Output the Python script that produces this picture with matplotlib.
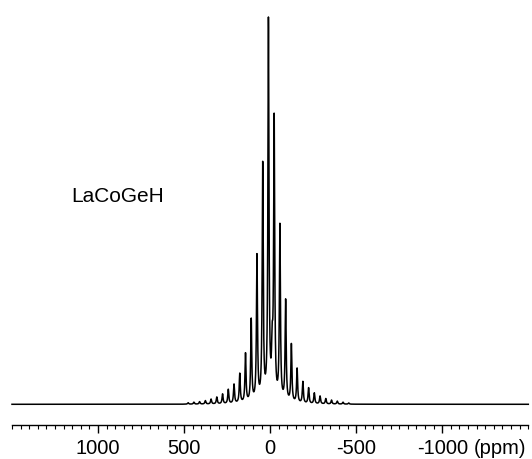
import numpy as np
import matplotlib
matplotlib.use("Agg")
import matplotlib.pyplot as plt
from matplotlib.ticker import MultipleLocator, FixedLocator

plt.rcParams['font.family'] = ['Liberation Sans', 'DejaVu Sans']

# Spinning sideband manifold (ppm positions and relative heights)
peak_ppm = [10.0, 43.3, 76.6, 110.0, 143.3, 176.6, 210.0, 243.3, 276.6, 310.0,
            343.3, 376.6, 410.0, 443.3, 476.6,
            -23.3, -56.6, -90.0, -123.3, -156.6, -190.0, -223.3, -256.6,
            -290.0, -323.3, -356.6, -390.0, -423.3, -456.6]
peak_height = [386, 240, 148, 84, 50, 30, 19.5, 14.5, 10, 7,
               5, 3.5, 2.5, 2, 1.5,
               283, 178, 103, 59, 35, 22, 16, 11,
               8, 5.5, 4, 3, 2, 1.2]
peak_hwhm = 3.6  # ppm

# small extra site between the centre band and first high-field sideband
extra_ppm = [-12.0]
extra_height = [45]
extra_hwhm = [4.5]

tick_values = [1000, 500, 0, -500, -1000]
tick_labels = ["1000", "500", "0", "-500", "-1000"]
label_text = "LaCoGeH"

x = np.linspace(1500, -1500, 24001)
y = np.zeros_like(x)
for p, h in zip(peak_ppm, peak_height):
    y += h * peak_hwhm**2 / (peak_hwhm**2 + (x - p)**2)
for p, h, g in zip(extra_ppm, extra_height, extra_hwhm):
    y += h * g**2 / (g**2 + (x - p)**2)

W, H = 532, 459
fig = plt.figure(figsize=(W / 100, H / 100), dpi=100)
ax_left, ax_right = 12, 528.3
ax_bottom_px, ax_top_px = 424.7, 17
base_px = 404.3
ax = fig.add_axes([ax_left / W, (H - ax_bottom_px) / H,
                   (ax_right - ax_left) / W, (ax_bottom_px - ax_top_px) / H])

ax.plot(x, y, color='black', lw=1.1, clip_on=False)
ymax = y.max()
ymin = -ymax * (ax_bottom_px - base_px) / (base_px - ax_top_px)
ax.set_ylim(ymin, ymax)
ax.set_xlim(1500, -1500)

for s in ['top', 'right', 'left']:
    ax.spines[s].set_visible(False)
ax.spines['bottom'].set_linewidth(1.0)
ax.set_yticks([])
ax.xaxis.set_major_locator(FixedLocator(tick_values))
ax.set_xticklabels(tick_labels)
ax.xaxis.set_minor_locator(MultipleLocator(50))
ax.tick_params(axis='x', which='major', direction='out', length=5.6, width=1.0,
               pad=5.0, labelsize=14.5)
ax.tick_params(axis='x', which='minor', direction='out', length=3.0, width=0.8)

ax.annotate("(ppm)", xy=(-1000, 0), xycoords=('data', 'axes fraction'),
            xytext=(23.0, -(5.6 + 5.0)), textcoords='offset points',
            ha='left', va='top', fontsize=14.5)

fig.text(71.7 / W, 1 - 196.6 / H, label_text, fontsize=15, ha='left', va='center')

fig.savefig("out.png", dpi=100)
